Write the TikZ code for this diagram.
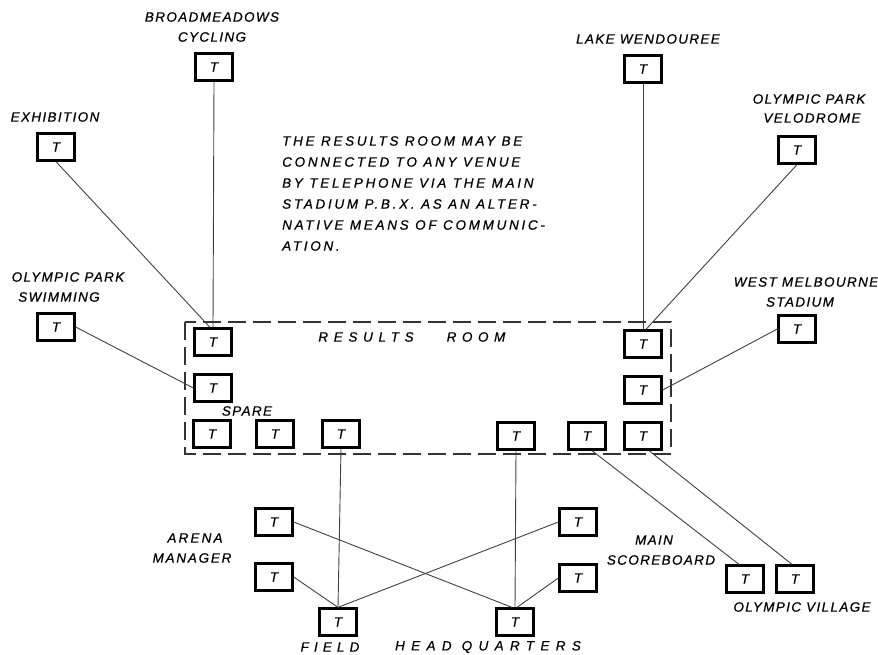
\documentclass[tikz,border=0pt]{standalone}
\usepackage{fontspec}
\newfontfamily\lett[LetterSpace=10,FakeBold=0.6]{Liberation Sans}
\newcommand{\lsz}{\fontsize{13.5}{13.5}\selectfont}
\begin{document}
\begin{tikzpicture}[x=1pt,y=-1pt,
  tbox/.style={draw=black,line width=2.3pt,minimum width=37pt,minimum height=27pt,inner sep=0pt,font=\lett\itshape\lsz},
  lbl/.style={inner sep=0pt,font=\lett\itshape\lsz},
  wire/.style={draw=black!75,line width=0.9pt},
  roomdash/.style={draw=black!80,line width=1.1pt,dash pattern=on 18pt off 7pt}]
\useasboundingbox (0,0) rectangle (878,655);
% results room outline
\draw[roomdash] (185,322) rectangle (671,454);
% boxes
\node[tbox] (bm)  at (214,67)  {T};
\node[tbox] (ex)  at (56,147)  {T};
\node[tbox] (lw)  at (643,69)  {T};
\node[tbox] (vel) at (797,150) {T};
\node[tbox] (sw)  at (56,327)  {T};
\node[tbox] (wm)  at (797,329) {T};
\node[tbox] (rl1) at (213,342) {T};
\node[tbox] (rl2) at (213,388) {T};
\node[tbox] (rb1) at (212,434) {T};
\node[tbox] (rb2) at (275,434) {T};
\node[tbox] (rb3) at (341,434) {T};
\node[tbox] (rb4) at (516,436) {T};
\node[tbox] (rb5) at (587,436) {T};
\node[tbox] (rb6) at (643,436) {T};
\node[tbox] (rr1) at (643,344) {T};
\node[tbox] (rr2) at (643,390) {T};
\node[tbox] (am1) at (274,522) {T};
\node[tbox] (am2) at (274,577) {T};
\node[tbox] (fld) at (338,622) {T};
\node[tbox] (hq)  at (515,622) {T};
\node[tbox] (rt1) at (578,522) {T};
\node[tbox] (rt2) at (578,578) {T};
\node[tbox] (ms)  at (745,579) {T};
\node[tbox] (ov)  at (795,579) {T};
% labels
\node[lbl] (l1) at (212,17) {BROADMEADOWS};
\node[lbl] (l2) at (212,37) {CYCLING};
\node[lbl] (l3) at (55,117) {EXHIBITION};
\node[lbl] (l4) at (648,39) {LAKE WENDOUREE};
\node[lbl] (l5) at (809,99) {OLYMPIC PARK};
\node[lbl] (l6) at (812,118) {VELODROME};
\node[lbl] (l7) at (68,277) {OLYMPIC PARK};
\node[lbl] (l8) at (59,297) {SWIMMING};
\node[lbl] (l9) at (806,282) {WEST MELBOURNE};
\node[lbl] (l10) at (800,302) {STADIUM};
\node[lbl,font=\lett\itshape\lsz\addfontfeatures{LetterSpace=42}] (l11) at (366,337) {RESULTS};
\node[lbl,font=\lett\itshape\lsz\addfontfeatures{LetterSpace=41}] (l12) at (476,337) {ROOM};
\node[lbl] (l13) at (247,411) {SPARE};
\node[lbl,font=\lett\itshape\lsz\addfontfeatures{LetterSpace=16}] (l14) at (195,538) {ARENA};
\node[lbl,font=\lett\itshape\lsz\addfontfeatures{LetterSpace=13}] (l15) at (192,558) {MANAGER};
\node[lbl] (l16) at (654,540) {MAIN};
\node[lbl] (l17) at (661,560) {SCOREBOARD};
\node[lbl] (l18) at (802,607) {OLYMPIC VILLAGE};
\node[lbl,font=\lett\itshape\lsz\addfontfeatures{LetterSpace=38}] (l19) at (330,647) {FIELD};
\node[lbl,font=\lett\itshape\lsz\addfontfeatures{LetterSpace=47}] (l20) at (488,647) {HEAD QUARTERS};
% note
\begin{scope}[every node/.style={lbl,anchor=west,font=\lett\itshape\lsz\addfontfeatures{LetterSpace=20}}]
\node (n1) at (282,141) {THE RESULTS ROOM MAY BE};
\node (n2) at (282,162) {CONNECTED TO ANY VENUE};
\node (n3) at (282,183) {BY TELEPHONE VIA THE MAIN};
\node (n4) at (282,204) {STADIUM P.B.X. AS AN ALTER-};
\node (n5) at (282,225) {NATIVE MEANS OF COMMUNIC-};
\node (n6) at (282,246) {ATION.};
\end{scope}
% connectors
\draw[wire] (bm.south) -- (rl1.north);
\draw[wire] (ex.south) -- ([xshift=-3pt]rl1.north);
\draw[wire] (sw.east) -- (rl2.west);
\draw[wire] (lw.south) -- (rr1.north);
\draw[wire] (vel.south) -- ([xshift=3pt]rr1.north);
\draw[wire] (wm.west) -- (rr2.east);
\draw[wire] (rb3.south) -- (fld.north);
\draw[wire] (rb4.south) -- (hq.north);
\draw[wire] ([xshift=5pt]rb5.south) -- ([xshift=-6pt]ms.north);
\draw[wire] ([xshift=6pt]rb6.south) -- ([xshift=-3pt]ov.north);
\draw[wire] (am1.east) -- ([xshift=-3pt]hq.north);
\draw[wire] (am2.east) -- (fld.north);
\draw[wire] (rt1.west) -- (fld.north);
\draw[wire] (rt2.west) -- ([xshift=2pt]hq.north);
\end{tikzpicture}
\end{document}
